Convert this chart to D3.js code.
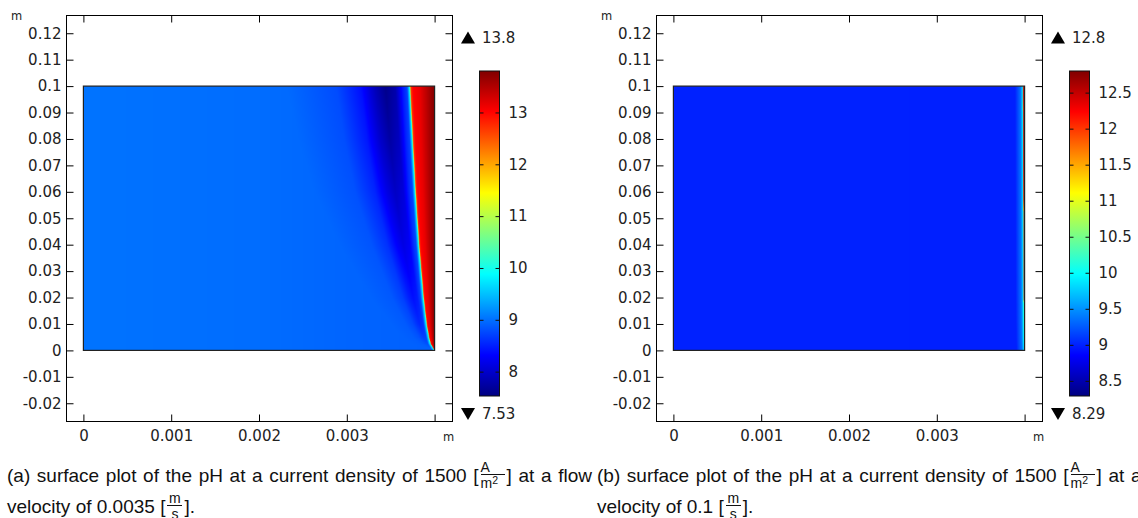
<!DOCTYPE html>
<html>
<head>
<meta charset="utf-8">
<script src="https://cdnjs.cloudflare.com/ajax/libs/d3/7.8.5/d3.min.js"></script>
<style>
  body { margin: 0; width: 1138px; height: 518px; overflow: hidden; background: #fff; position: relative; }
  svg { position: absolute; left: 0; top: 0; }
  .tick text, .lbl { font-family: "DejaVu Sans", sans-serif; font-size: 15px; fill: #222; }
  .unit { font-family: "DejaVu Sans", sans-serif; font-size: 11.5px; fill: #222; }
  .cap { position: absolute; width: 585px; font-family: "Liberation Sans", Arial, sans-serif;
         font-size: 19px; line-height: 18px; color: #111; }
  .j { text-align: justify; text-align-last: justify; }
  .fr { display: inline-block; position: relative; height: 0; width: 24px; margin: 0 2px;
        font-size: 14px; line-height: 14px; }
  .nu { position: absolute; left: 0; right: 0; bottom: 7px; text-align: center;
        border-bottom: 1px solid #111; padding-bottom: 0; }
  .de { position: absolute; left: 0; right: 0; top: -6px; text-align: center; }
  .sq { font-size: 10.5px; position: relative; top: -4px; }
</style>
</head>
<body>
<script>
// axis ticks (shared by both panels)
const xTicks = [0, 0.001, 0.002, 0.003, 0.004];
const xTickLabels = ["0", "0.001", "0.002", "0.003", ""];
const yTicks = [-0.02, -0.01, 0, 0.01, 0.02, 0.03, 0.04, 0.05, 0.06, 0.07, 0.08, 0.09, 0.1, 0.11, 0.12];
const yTickLabels = ["-0.02", "-0.01", "0", "0.01", "0.02", "0.03", "0.04", "0.05", "0.06",
  "0.07", "0.08", "0.09", "0.1", "0.11", "0.12"];

const yLevels = [0, 0.0025, 0.005, 0.01, 0.02, 0.04, 0.06, 0.08, 0.1];
// shape of the dark band left of the front (distance / band distance -> share of the dip)
const dipS = [0, 0.3, 0.6, 1, 1.4, 2, 3, 5];
const dipFrac = [0, 0.35, 0.85, 1, 0.8, 0.4, 0.12, 0];
// share of the way from the front to the wall
const wallU = [0, 0.03, 0.12, 0.4, 1];

// (a) flow velocity 0.0035 m/s
const rangeA = [7.53, 13.8];
const cbTicksA = [8, 9, 10, 11, 12, 13];
const frontA = [0.004, 0.003956, 0.003937, 0.00391, 0.003875, 0.003823, 0.003783, 0.00375, 0.00372];
const dipDistA = [0.00001, 0.00004, 0.00006, 0.00008, 0.00012, 0.00018, 0.00023, 0.00026, 0.00028];
const dipMinA = [8.95, 8.8, 8.7, 8.55, 8.4, 8.15, 7.95, 7.75, 7.6];
const bulkXA = [0, 0.002, 0.003, 0.004];
const bulkA = [9.02, 8.98, 8.93, 8.9];
const edgeDistA = [0, 0.00001, 0.00004, 0.00007];
const edgeA = [10.6, 9.7, 8.5, 7];
const wallA = [11.6, 12.7, 13.0, 13.15, 13.8];

// (b) flow velocity 0.1 m/s
const rangeB = [8.29, 12.8];
const cbTicksB = [8.5, 9, 9.5, 10, 10.5, 11, 11.5, 12, 12.5];
const frontB = [0.004, 0.003997, 0.003995, 0.003993, 0.00399, 0.003988, 0.003986, 0.003984, 0.003982];
const dipDistB = [0.00001, 0.00001, 0.00001, 0.00001, 0.00001, 0.00001, 0.00001, 0.00001, 0.00001];
const dipMinB = [9.0, 9.0, 9.0, 9.0, 9.0, 9.0, 9.0, 9.0, 9.0];
const bulkXB = [0, 0.002, 0.003, 0.004];
const bulkB = [9.0, 9.0, 8.99, 8.99];
const edgeDistB = [0, 0.000008, 0.00003, 0.00009, 0.00012];
const edgeB = [10.3, 9.8, 9.35, 9.0, 8];
const wallB = [11.0, 11.9, 12.3, 12.5, 12.8];

const jetT = [0, 0.125, 0.375, 0.625, 0.875, 1];
const jetC = ["#000080", "#0000ff", "#00ffff", "#ffff00", "#ff0000", "#800000"];

const jet = d3.scaleLinear().domain(jetT).range(jetC).interpolate(d3.interpolateRgb).clamp(true);
const lut = d3.range(1024).map(i => d3.rgb(jet(i / 1023)));

const svg = d3.select("body").append("svg").attr("width", 1138).attr("height", 518);
const defs = svg.append("defs");

const grad = defs.append("linearGradient").attr("id", "jet")
  .attr("x1", 0).attr("y1", 1).attr("x2", 0).attr("y2", 0);
grad.selectAll("stop").data(jetT).enter().append("stop")
  .attr("offset", d => d).attr("stop-color", (d, i) => jetC[i]);

function makeField(p) {
  const front = d3.scaleLinear().domain(yLevels).range(p.front);
  const dipD = d3.scaleLinear().domain(yLevels).range(p.dipDist);
  const dipM = d3.scaleLinear().domain(yLevels).range(p.dipMin);
  const bulk = d3.scaleLinear().domain(p.bulkX).range(p.bulk);
  const shape = d3.scaleLinear().domain(dipS).range(dipFrac).clamp(true);
  const edge = d3.scaleLinear().domain(p.edgeDist).range(p.edge).clamp(true);
  const wall = d3.scaleLinear().domain(wallU).range(p.wall).clamp(true);
  return (X, Y) => {
    const xf = front(Y);
    if (X >= xf) {
      const u = xf >= 0.004 ? 1 : (X - xf) / (0.004 - xf);
      return wall(u);
    }
    const dd = xf - X;
    const b = bulk(X);
    const v = b + (dipM(Y) - b) * shape(dd / dipD(Y));
    return Math.max(v, edge(dd));
  };
}

function drawPanel(off, p) {
  const g = svg.append("g");
  const x = d3.scaleLinear().domain([0, 0.004]).range([83.4 + off, 434.6 + off]);
  const y = d3.scaleLinear().domain([0, 0.1]).range([350.4, 86.1]);
  const left = 66 + off, right = 452 + off, top = 15, bottom = 421;

  // surface
  const f = makeField(p);
  const x0 = x(0), x1 = x(0.004), y0 = y(0.1), y1 = y(0);
  const ss = 3;
  const w = Math.round((x1 - x0) * ss), h = Math.round((y1 - y0) * ss);
  const cv = document.createElement("canvas");
  cv.width = w; cv.height = h;
  const ctx = cv.getContext("2d");
  const img = ctx.createImageData(w, h);
  const px = d3.scaleLinear().domain([0, w]).range([0, 0.004]);
  const py = d3.scaleLinear().domain([0, h]).range([0.1, 0]);
  const ct = d3.scaleLinear().domain(p.range).range([0, 1023]).clamp(true);
  for (let j = 0; j < h; j++) {
    const Y = py(j + 0.5);
    for (let i = 0; i < w; i++) {
      const c = lut[Math.round(ct(f(px(i + 0.5), Y)))];
      const k = (j * w + i) * 4;
      img.data[k] = c.r; img.data[k + 1] = c.g; img.data[k + 2] = c.b; img.data[k + 3] = 255;
    }
  }
  ctx.putImageData(img, 0, 0);
  g.append("image")
    .attr("x", x0).attr("y", y0)
    .attr("width", x1 - x0).attr("height", y1 - y0)
    .attr("preserveAspectRatio", "none")
    .attr("href", cv.toDataURL());
  g.append("rect")
    .attr("x", x0).attr("y", y0).attr("width", x1 - x0).attr("height", y1 - y0)
    .attr("fill", "none").attr("stroke", "#222").attr("stroke-width", 1.2);

  // axes: ticks inside on every side
  g.append("g").attr("transform", `translate(${left + 0.5},0)`)
    .call(d3.axisLeft(y).tickValues(yTicks).tickSize(-7).tickPadding(5)
      .tickFormat((d, i) => yTickLabels[i]));
  g.append("g").attr("transform", `translate(${right + 0.5},0)`)
    .call(d3.axisRight(y).tickValues(yTicks).tickSize(-7).tickFormat(""));
  g.append("g").attr("transform", `translate(0,${bottom + 0.5})`)
    .call(d3.axisBottom(x).tickValues(xTicks).tickSize(-7).tickPadding(9)
      .tickFormat((d, i) => xTickLabels[i]));
  g.append("g").attr("transform", `translate(0,${top + 0.5})`)
    .call(d3.axisTop(x).tickValues(xTicks).tickSize(-7).tickFormat(""));
  g.selectAll(".domain").remove();
  g.selectAll(".tick line").attr("stroke", "#000");

  g.append("rect")
    .attr("x", left + 0.5).attr("y", top + 0.5)
    .attr("width", right - left).attr("height", bottom - top)
    .attr("fill", "none").attr("stroke", "#000");

  g.append("text").attr("class", "unit").attr("x", 11 + off).attr("y", 20).text("m");
  g.append("text").attr("class", "unit").attr("x", 443 + off).attr("y", 440.5).text("m");

  // colour legend
  const cb = d3.scaleLinear().domain(p.range).range([396, 71]);
  const cbL = 479.5 + off, cbW = 20;
  g.append("rect")
    .attr("x", cbL).attr("y", cb(p.range[1]))
    .attr("width", cbW).attr("height", cb(p.range[0]) - cb(p.range[1]))
    .attr("fill", "url(#jet)").attr("stroke", "#111");
  const cr = g.append("g").attr("transform", `translate(${cbL + cbW},0)`)
    .call(d3.axisRight(cb).tickValues(p.cbTicks).tickSize(-4).tickPadding(9).tickFormat(d => d));
  const cl = g.append("g").attr("transform", `translate(${cbL},0)`)
    .call(d3.axisLeft(cb).tickValues(p.cbTicks).tickSize(-4).tickFormat(""));
  cr.select(".domain").remove();
  cl.select(".domain").remove();
  cr.selectAll(".tick line").attr("stroke", "#111");
  cl.selectAll(".tick line").attr("stroke", "#111");

  const tri = d3.symbol(d3.symbolTriangle, 85);
  g.append("path").attr("d", tri()).attr("fill", "#000")
    .attr("transform", `translate(${468 + off},39.5)`);
  g.append("path").attr("d", tri()).attr("fill", "#000")
    .attr("transform", `translate(${468 + off},412) rotate(180)`);
  g.append("text").attr("class", "lbl").attr("x", 482 + off).attr("y", 38).attr("dy", "0.32em")
    .text(p.range[1]);
  g.append("text").attr("class", "lbl").attr("x", 482 + off).attr("y", 414).attr("dy", "0.32em")
    .text(p.range[0]);
}

drawPanel(0, {
  range: rangeA, cbTicks: cbTicksA, front: frontA, dipDist: dipDistA, dipMin: dipMinA,
  bulkX: bulkXA, bulk: bulkA, edgeDist: edgeDistA, edge: edgeA, wall: wallA
});
drawPanel(590, {
  range: rangeB, cbTicks: cbTicksB, front: frontB, dipDist: dipDistB, dipMin: dipMinB,
  bulkX: bulkXB, bulk: bulkB, edgeDist: edgeDistB, edge: edgeB, wall: wallB
});

// captions
const fracA = '<span class="fr"><span class="nu">A</span><span class="de">m<span class="sq">2</span></span></span>';
const fracV = '<span class="fr" style="width:15px"><span class="nu">m</span><span class="de">s</span></span>';
const captions = [
  { left: 7, line1: "(a) surface plot of the pH at a current density of 1500 [" + fracA + "] at a flow",
    line2: "velocity of 0.0035 [" + fracV + "]." },
  { left: 597, line1: "(b) surface plot of the pH at a current density of 1500 [" + fracA + "] at a flow",
    line2: "velocity of 0.1 [" + fracV + "]." }
];
captions.forEach(c => {
  d3.select("body").append("div").attr("class", "cap j")
    .style("left", c.left + "px").style("top", "467px").html(c.line1);
  d3.select("body").append("div").attr("class", "cap")
    .style("left", c.left + "px").style("top", "498px").html(c.line2);
});
</script>
</body>
</html>
